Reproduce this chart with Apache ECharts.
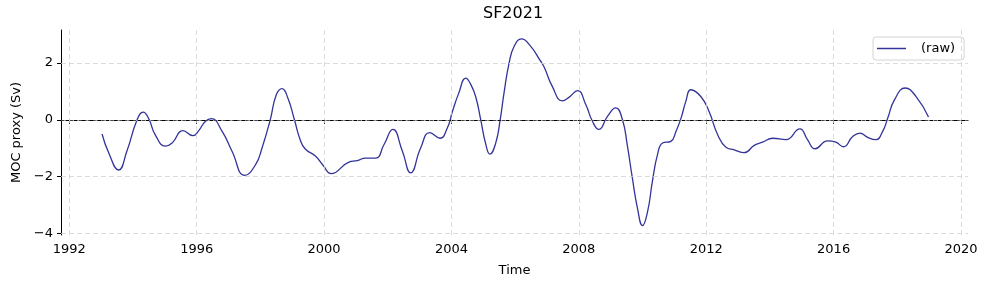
<!DOCTYPE html>
<html>
<head>
<meta charset="utf-8">
<script src="https://cdn.jsdelivr.net/npm/echarts@6/dist/echarts.min.js"></script>
<style>
  html, body { margin: 0; padding: 0; background: #fff; }
  #chart { width: 988px; height: 289px; }
</style>
</head>
<body>
<div id="chart"></div>
<script>
// values
var years = [
  1993.03, 1993.24, 1993.55, 1993.81, 1994.13, 1994.32, 1994.49, 1994.70,
  1995.02, 1995.23, 1995.57, 1995.88, 1996.06, 1996.27, 1996.46, 1996.80,
  1997.11, 1997.51, 1997.85, 1998.05, 1998.31, 1998.50, 1998.68,
  1998.86, 1999.07, 1999.25, 1999.41, 1999.72, 1999.98, 2000.22,
  2000.78, 2001.04, 2001.30, 2001.62, 2001.88, 2002.16, 2002.46, 2002.72,
  2003.03, 2003.32, 2003.64, 2003.87, 2004.03, 2004.23, 2004.45, 2004.61,
  2004.76, 2004.92, 2005.07, 2005.21, 2005.39, 2005.53, 2005.65, 2005.81,
  2005.97, 2006.20, 2006.49, 2006.78, 2006.91, 2007.17, 2007.48, 2007.69,
  2007.96, 2008.22, 2008.43, 2008.63, 2008.90, 2009.16, 2009.37, 2009.52,
  2009.68, 2009.84, 2010.00, 2010.16, 2010.31, 2010.47, 2010.63, 2010.89,
  2011.05, 2011.21, 2011.36, 2011.52, 2011.83, 2012.09, 2012.36, 2012.62,
  2012.88, 2013.19, 2013.51, 2013.77, 2014.09, 2014.50, 2014.94, 2015.18,
  2015.42, 2015.81, 2016.07, 2016.31, 2016.60, 2016.83, 2017.07, 2017.33,
  2017.54, 2017.70, 2017.91, 2018.25, 2018.59, 2018.98
];
var rawMoc = [
  -0.50, -1.17, -1.77, -1.10, 0.00, 0.27, 0.05, -0.53,
  -0.93, -0.82, -0.38, -0.56, -0.39, -0.06, 0.04, -0.41,
  -1.11, -1.96, -1.58, -1.00, 0.00, 0.88, 1.10,
  0.78, 0.00, -0.70, -1.03, -1.27, -1.62, -1.90,
  -1.49, -1.44, -1.35, -1.35, -0.88, -0.34, -1.11, -1.87,
  -1.00, -0.45, -0.65, -0.29, 0.29, 0.94, 1.47, 1.24,
  0.82, 0.00, -0.82, -1.21, -0.82, 0.00, 0.94, 2.00,
  2.59, 2.85, 2.59, 2.10, 1.86, 1.17, 0.67, 0.79,
  1.03, 0.53, -0.06, -0.34, 0.12, 0.42, 0.00, -0.88,
  -2.05, -3.11, -3.73, -3.23, -2.17, -1.23, -0.82, -0.76,
  -0.41, 0.06, 0.65, 1.06, 0.82, 0.29, -0.53, -0.97,
  -1.06, -1.16, -0.90, -0.79, -0.65, -0.70, -0.32, -0.70,
  -1.02, -0.74, -0.79, -0.95, -0.59, -0.47, -0.62, -0.70,
  -0.41, 0.06, 0.70, 1.12, 0.82, 0.10
];
var xTicks = [1992, 1996, 2000, 2004, 2008, 2012, 2016, 2020];
var yTicks = [-4, -2, 0, 2];

var font = 'DejaVu Sans';

function minusSign(v) {
  return String(v).replace('-', '\u2212');
}

var gridLines = xTicks.map(function (v) {
  return { xAxis: v };
}).concat(yTicks.map(function (v) {
  return { yAxis: v };
}));

var chart = echarts.init(document.getElementById('chart'));
chart.setOption({
  animation: false,
  textStyle: { fontFamily: font },
  title: {
    text: 'SF2021',
    left: 483,
    top: 6,
    padding: 0,
    textStyle: { fontFamily: font, fontSize: 16, fontWeight: 'normal', color: '#000' }
  },
  legend: {
    data: ['(raw)'],
    left: 873,
    top: 37,
    padding: [5, 9, 5, 4],
    icon: 'rect',
    itemWidth: 29,
    itemHeight: 1.5,
    borderColor: '#d4d4d4',
    borderWidth: 1,
    borderRadius: 3,
    backgroundColor: 'rgba(255,255,255,0.85)',
    textStyle: { fontFamily: font, fontSize: 13, color: '#000', padding: [0, 0, 0, 10] }
  },
  grid: { left: 61, right: 20, top: 30, bottom: 54, containLabel: false },
  xAxis: {
    type: 'value',
    min: 1991.74,
    max: 2020.22,
    name: 'Time',
    nameLocation: 'middle',
    nameGap: 29,
    nameTextStyle: { fontFamily: font, fontSize: 13, color: '#000' },
    axisLine: { show: true, lineStyle: { color: '#000', width: 1 } },
    axisTick: { show: true, customValues: xTicks, length: 4, lineStyle: { color: '#000' } },
    axisLabel: {
      customValues: xTicks,
      margin: 8,
      fontFamily: font,
      fontSize: 13,
      color: '#000',
      formatter: function (v) { return String(v); }
    },
    splitLine: { show: false }
  },
  yAxis: {
    type: 'value',
    min: -4.06,
    max: 3.165,
    name: 'MOC proxy (Sv)',
    nameLocation: 'middle',
    nameGap: 36,
    nameTextStyle: { fontFamily: font, fontSize: 13, color: '#000' },
    axisLine: { show: true, onZero: false, lineStyle: { color: '#000', width: 1 } },
    axisTick: { show: true, customValues: yTicks, length: 4, lineStyle: { color: '#000' } },
    axisLabel: {
      customValues: yTicks,
      margin: 8,
      fontFamily: font,
      fontSize: 13,
      color: '#000',
      formatter: minusSign
    },
    splitLine: { show: false }
  },
  series: [
    {
      name: 'gridlines',
      type: 'line',
      data: [],
      z: 1,
      silent: true,
      markLine: {
        silent: true,
        symbol: 'none',
        label: { show: false },
        lineStyle: { color: '#d3d3d3', type: [5, 3], width: 0.8 },
        data: gridLines
      }
    },
    {
      name: '(raw)',
      type: 'line',
      z: 3,
      data: years.map(function (y, i) { return [y, rawMoc[i]]; }),
      showSymbol: false,
      smooth: 0.5,
      color: '#333399',
      lineStyle: { color: '#333399', width: 1.3 },
      markLine: {
        silent: true,
        symbol: 'none',
        label: { show: false },
        lineStyle: { color: '#000', type: [3, 1.5], width: 0.6 },
        data: [{ yAxis: 0 }]
      }
    }
  ]
});
</script>
</body>
</html>
